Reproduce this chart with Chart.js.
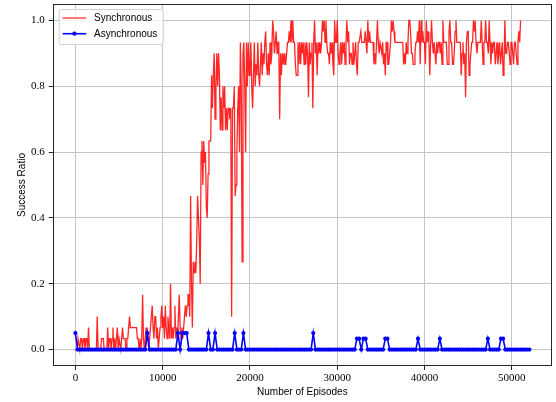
<!DOCTYPE html>
<html>
<head>
<meta charset="utf-8">
<title>Success Ratio</title>
<script src="https://cdn.jsdelivr.net/npm/chart.js@4"></script>
<style>
    html, body { margin: 0; padding: 0; background: #fff; }
    canvas { display: block; }
</style>
</head>
<body>
<canvas id="chart" width="556" height="402"></canvas>
<script>
// Episodes between two evaluations
const syncStep = 100;
const asyncStep = 250;

// Synchronous: successful test episodes out of 30, one value per evaluation
const syncSuccesses = [
    0,0,0,1,1,0,1,1,0,1,
    1,0,1,1,0,2,0,0,0,0,
    0,0,0,0,0,3,0,0,0,0,
    1,1,1,0,0,0,0,2,0,1,
    1,0,1,2,0,1,0,1,2,0,
    1,1,0,1,2,1,1,1,0,1,
    1,2,3,2,2,2,2,2,2,2,
    2,1,1,0,1,0,1,5,1,0,
    1,2,1,1,0,1,2,3,4,2,
    1,3,3,1,2,0,1,2,3,4,
    2,3,1,4,2,1,3,2,1,6,
    1,2,1,2,4,1,2,1,3,5,
    2,1,2,1,2,3,4,3,4,5,
    5,3,14,6,2,8,7,8,7,10,
    14,12,10,6,18,19,15,19,17,18,
    13,12,16,19,19,19,25,22,25,27,
    21,24,27,24,27,25,20,23,20,24,
    22,24,20,22,20,22,22,21,22,3,
    22,22,24,14,15,18,22,24,18,28,
    24,8,27,28,24,18,28,24,28,25,
    26,28,24,22,25,28,24,26,25,28,
    25,24,26,28,25,27,26,28,29,26,
    25,27,25,28,26,27,30,29,27,28,
    29,27,28,28,21,27,25,27,26,27,
    26,26,27,28,28,29,28,30,28,30,
    28,28,26,25,25,28,26,28,26,28,
    27,28,26,28,26,28,27,23,28,26,
    27,28,22,28,30,27,28,25,28,27,
    28,27,28,30,29,30,28,30,28,27,
    27,26,28,27,28,26,25,30,28,28,
    30,27,26,27,28,26,28,27,28,26,
    28,30,28,29,26,27,27,26,28,26,
    27,28,26,25,28,28,28,29,28,28,
    28,28,29,28,27,30,28,29,28,28,
    28,28,26,27,26,28,30,28,27,28,
    28,27,28,26,27,25,28,28,26,26,
    27,28,30,29,30,29,28,28,28,28,
    28,28,28,28,28,28,26,27,26,28,
    27,28,30,30,29,27,27,26,26,27,
    28,28,29,28,30,26,30,28,29,28,
    28,26,30,28,29,28,25,28,30,28,
    27,28,27,26,28,27,28,28,27,28,
    26,30,28,28,28,28,26,26,29,30,
    28,28,26,26,27,29,30,28,28,28,
    28,28,25,27,28,26,27,23,28,29,
    29,25,26,27,28,28,30,29,30,28,
    27,28,28,28,28,30,28,26,28,28,
    30,28,28,27,30,28,26,28,27,28,
    28,26,27,28,26,27,28,26,27,28,
    25,26,30,27,27,28,28,27,26,28,
    28,27,26,28,28,27,26,28,29,28,30
];
const syncTests = 30;

// Asynchronous success ratio
const asyncRatio = [
    0.05,0,0,0,0,0,0,0,0,0,
    0,0,0,0,0,0,0,0,0,0,
    0,0,0,0,0,0,0,0,0,0,
    0,0,0,0.05,0,0,0,0,0,0,
    0,0,0,0,0,0,0,0.05,0,0.05,
    0.05,0.05,0,0,0,0,0,0,0,0,
    0,0.05,0,0,0.05,0,0,0,0,0,
    0,0,0,0.05,0,0,0,0.05,0,0,
    0,0,0,0,0,0,0,0,0,0,
    0,0,0,0,0,0,0,0,0,0,
    0,0,0,0,0,0,0,0,0,0.05,
    0,0,0,0,0,0,0,0,0,0,
    0,0,0,0,0,0,0,0,0,0.033,
    0.033,0,0.033,0.033,0,0,0,0,0,0,
    0,0,0.033,0.033,0,0,0,0,0,0,
    0,0,0,0,0,0,0,0.033,0,0,
    0,0,0,0,0,0,0,0.033,0,0,
    0,0,0,0,0,0,0,0,0,0,
    0,0,0,0,0,0,0,0,0,0.033,
    0,0,0,0,0,0.033,0.033,0,0,0,
    0,0,0,0,0,0,0,0,0
];

const xTicks = [0, 10000, 20000, 30000, 40000, 50000];
const yTicks = [0, 0.2, 0.4, 0.6, 0.8, 1.0];

const tickFont = { family: 'Liberation Serif', size: 11 };
const labelFont = { family: 'Liberation Sans', size: 10 };

// Frame round the plot, like matplotlib spines
const frame = {
    id: 'frame',
    afterDraw(chart) {
        const { ctx, chartArea: a } = chart;
        ctx.save();
        ctx.strokeStyle = '#262626';
        ctx.lineWidth = 1;
        ctx.strokeRect(Math.round(a.left) + 0.5, Math.round(a.top) + 0.5,
            Math.round(a.width) - 1, Math.round(a.height) - 1);
        ctx.restore();
    }
};

// Legend box in the upper left corner
const legendBox = {
    id: 'legendBox',
    afterDatasetsDraw(chart) {
        const { ctx, chartArea: a } = chart;
        const x = a.left + 6, y = a.top + 5, w = 104, h = 35;
        ctx.save();
        ctx.beginPath();
        ctx.roundRect(x + 0.5, y + 0.5, w, h, 2);
        ctx.fillStyle = 'rgba(255,255,255,0.8)';
        ctx.fill();
        ctx.strokeStyle = '#d0d0d0';
        ctx.lineWidth = 1;
        ctx.stroke();

        const rows = [
            { label: 'Synchronous', color: 'rgba(255,0,0,0.65)', marker: false },
            { label: 'Asynchronous', color: '#0000ff', marker: true }
        ];
        rows.forEach((r, i) => {
            const ry = y + 9 + i * 15.7;
            ctx.beginPath();
            ctx.moveTo(x + 4, ry);
            ctx.lineTo(x + 27.5, ry);
            ctx.strokeStyle = r.color;
            ctx.lineWidth = 1.6;
            ctx.stroke();
            if (r.marker) {
                ctx.beginPath();
                ctx.arc(x + 15.7, ry, 2.1, 0, Math.PI * 2);
                ctx.fillStyle = r.color;
                ctx.fill();
            }
            ctx.fillStyle = '#000';
            ctx.font = '10px "Liberation Sans"';
            ctx.textBaseline = 'middle';
            ctx.fillText(r.label, x + 35.3, ry + 0.5);
        });
        ctx.restore();
    }
};

const ctx = document.getElementById('chart').getContext('2d');
new Chart(ctx, {
    type: 'line',
    data: {
        datasets: [
            {
                label: 'Synchronous',
                data: syncSuccesses.map((v, i) => ({ x: i * syncStep, y: v / syncTests })),
                borderColor: 'rgba(255,0,0,0.85)',
                borderWidth: 1.3,
                pointRadius: 0,
                tension: 0,
                order: 1
            },
            {
                label: 'Asynchronous',
                data: asyncRatio.map((v, i) => ({ x: i * asyncStep, y: v })),
                borderColor: '#0000ff',
                backgroundColor: '#0000ff',
                borderWidth: 1.6,
                pointRadius: 2.1,
                pointBorderWidth: 0,
                pointBackgroundColor: '#0000ff',
                tension: 0,
                order: 0
            }
        ]
    },
    options: {
        responsive: false,
        animation: false,
        devicePixelRatio: 1,
        layout: { padding: { top: 1, right: 4, left: 0, bottom: 0 } },
        plugins: {
            legend: { display: false },
            tooltip: { enabled: false }
        },
        scales: {
            x: {
                type: 'linear',
                min: -2600,
                max: 54600,
                afterBuildTicks: s => { s.ticks = xTicks.map(v => ({ value: v })); },
                afterFit: s => { s.height = 36; s.paddingLeft = 0; s.paddingRight = 0; },
                ticks: {
                    autoSkip: false,
                    maxRotation: 0,
                    padding: 2,
                    color: '#000',
                    font: tickFont,
                    callback: v => String(v)
                },
                grid: { color: '#c4c4c4', lineWidth: 1, tickColor: '#262626', tickLength: 4 },
                border: { display: false },
                title: {
                    display: true,
                    text: 'Number of Episodes',
                    color: '#000',
                    font: labelFont,
                    padding: { top: 0, bottom: 4 }
                }
            },
            y: {
                min: -0.05,
                max: 1.05,
                afterBuildTicks: s => { s.ticks = yTicks.map(v => ({ value: v })); },
                afterFit: s => { s.width = 52.7; s.paddingTop = 0; s.paddingBottom = 0; },
                ticks: {
                    autoSkip: false,
                    padding: 4,
                    color: '#000',
                    font: tickFont,
                    callback: v => v.toFixed(1)
                },
                grid: { color: '#c4c4c4', lineWidth: 1, tickColor: '#262626', tickLength: 4 },
                border: { display: false },
                title: {
                    display: true,
                    text: 'Success Ratio',
                    color: '#000',
                    font: labelFont,
                    padding: { top: 16, bottom: 0 }
                }
            }
        }
    },
    plugins: [frame, legendBox]
});
</script>
</body>
</html>
